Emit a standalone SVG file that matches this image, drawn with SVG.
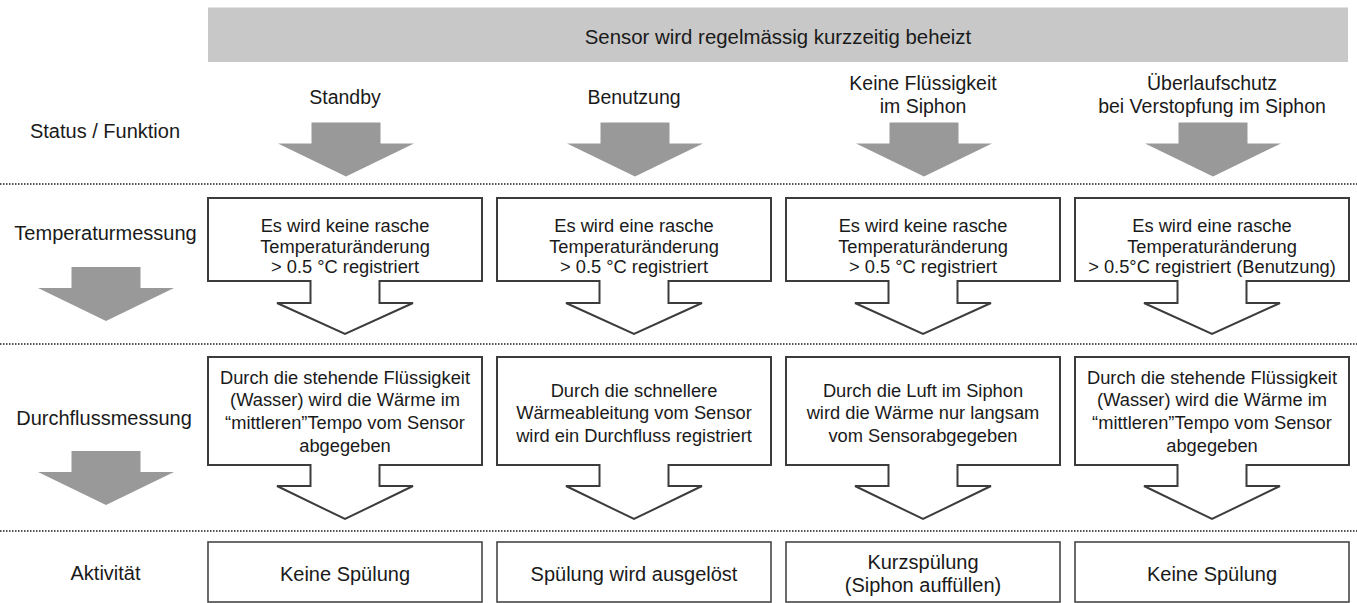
<svg xmlns="http://www.w3.org/2000/svg" xmlns:xlink="http://www.w3.org/1999/xlink" width="1357" height="603" viewBox="0 0 1357 603">
  <style>
    text { font-family: "Liberation Sans", Arial, sans-serif; fill: #1a1a1a; text-anchor: middle; }
    .lbl { font-size: 20px; }
    .hdr { font-size: 19.5px; }
    .ban { font-size: 20.4px; }
    .box { font-size: 18.3px; }
    .act { font-size: 20px; }
    .callout { fill: #ffffff; stroke: #3c3c3c; stroke-width: 2; stroke-linejoin: miter; }
    .actbox { fill: #ffffff; stroke: #464646; stroke-width: 1.6; }
    .sep { stroke: #555555; stroke-width: 1.8; stroke-dasharray: 1.5 1.5; fill: none; }
    .grey { fill: #999999; }
  </style>
  <defs>
    <!-- solid grey block arrow, origin at top centre of the stem -->
    <path id="blockArrow" class="grey" d="M -34.5 0 H 34.5 V 21 H 68 L 0 54 L -68 21 H -34.5 Z"/>
  </defs>

  <!-- banner -->
  <g id="banner">
    <rect x="208" y="7.5" width="1140" height="54.5" fill="#c8c8c8"/>
    <text class="ban" x="778" y="44">Sensor wird regelmässig kurzzeitig beheizt</text>
  </g>

  <!-- row separators -->
  <g id="separators">
    <line class="sep" x1="0" y1="184" x2="1357" y2="184"/>
    <line class="sep" x1="0" y1="344" x2="1357" y2="344"/>
    <line class="sep" x1="0" y1="531" x2="1357" y2="531"/>
  </g>

  <!-- row labels -->
  <g id="row-labels">
    <text class="lbl" x="105" y="137.5">Status / Funktion</text>
    <text class="lbl" x="105.5" y="239.5">Temperaturmessung</text>
    <text class="lbl" x="104" y="425">Durchflussmessung</text>
    <text class="lbl" x="105.5" y="580">Aktivität</text>
    <use href="#blockArrow" x="106" y="267"/>
    <use href="#blockArrow" x="106" y="451"/>
  </g>

  <!-- column headers with grey arrows -->
  <g id="col-standby">
    <text class="hdr" x="345" y="104">Standby</text>
    <use href="#blockArrow" x="346" y="122.5"/>
  </g>
  <g id="col-benutzung">
    <text class="hdr" x="634" y="104">Benutzung</text>
    <use href="#blockArrow" x="635" y="122.5"/>
  </g>
  <g id="col-keine-fluessigkeit">
    <text class="hdr" x="923" y="89.5">Keine Flüssigkeit</text>
    <text class="hdr" x="923" y="112.5">im Siphon</text>
    <use href="#blockArrow" x="924" y="122.5"/>
  </g>
  <g id="col-ueberlauf">
    <text class="hdr" x="1212" y="89.5">Überlaufschutz</text>
    <text class="hdr" x="1212" y="112.5">bei Verstopfung im Siphon</text>
    <use href="#blockArrow" x="1213" y="122.5"/>
  </g>

  <!-- temperature measurement callouts -->
  <g id="temp-1">
    <path class="callout" d="M 208 198 H 482 V 281 H 379.5 V 303 H 413 L 345 334 L 277 303 H 310.5 V 281 H 208 Z"/>
    <text class="box" x="345" y="232">Es wird keine rasche</text>
    <text class="box" x="345" y="252.5">Temperaturänderung</text>
    <text class="box" x="345" y="273">&gt; 0.5 °C registriert</text>
  </g>
  <g id="temp-2">
    <path class="callout" d="M 497 198 H 771 V 281 H 668.5 V 303 H 702 L 634 334 L 566 303 H 599.5 V 281 H 497 Z"/>
    <text class="box" x="634" y="232">Es wird eine rasche</text>
    <text class="box" x="634" y="252.5">Temperaturänderung</text>
    <text class="box" x="634" y="273">&gt; 0.5 °C registriert</text>
  </g>
  <g id="temp-3">
    <path class="callout" d="M 786 198 H 1060 V 281 H 957.5 V 303 H 991 L 923 334 L 855 303 H 888.5 V 281 H 786 Z"/>
    <text class="box" x="923" y="232">Es wird keine rasche</text>
    <text class="box" x="923" y="252.5">Temperaturänderung</text>
    <text class="box" x="923" y="273">&gt; 0.5 °C registriert</text>
  </g>
  <g id="temp-4">
    <path class="callout" d="M 1075 198 H 1349 V 281 H 1246.5 V 303 H 1280 L 1212 334 L 1144 303 H 1177.5 V 281 H 1075 Z"/>
    <text class="box" x="1212" y="232">Es wird eine rasche</text>
    <text class="box" x="1212" y="252.5">Temperaturänderung</text>
    <text class="box" x="1212" y="273">&gt; 0.5°C registriert (Benutzung)</text>
  </g>

  <!-- flow measurement callouts -->
  <g id="flow-1">
    <path class="callout" d="M 208 357 H 482 V 465 H 379.5 V 486 H 413 L 345 519 L 277 486 H 310.5 V 465 H 208 Z"/>
    <text class="box" x="345" y="383.5">Durch die stehende Flüssigkeit</text>
    <text class="box" x="345" y="406">(Wasser) wird die Wärme im</text>
    <text class="box" x="345" y="429">“mittleren”Tempo vom Sensor</text>
    <text class="box" x="345" y="452">abgegeben</text>
  </g>
  <g id="flow-2">
    <path class="callout" d="M 497 357 H 771 V 465 H 668.5 V 486 H 702 L 634 519 L 566 486 H 599.5 V 465 H 497 Z"/>
    <text class="box" x="634" y="396.5">Durch die schnellere</text>
    <text class="box" x="634" y="419">Wärmeableitung vom Sensor</text>
    <text class="box" x="634" y="441.5">wird ein Durchfluss registriert</text>
  </g>
  <g id="flow-3">
    <path class="callout" d="M 786 357 H 1060 V 465 H 957.5 V 486 H 991 L 923 519 L 855 486 H 888.5 V 465 H 786 Z"/>
    <text class="box" x="923" y="396.5">Durch die Luft im Siphon</text>
    <text class="box" x="923" y="419">wird die Wärme nur langsam</text>
    <text class="box" x="923" y="441.5">vom Sensorabgegeben</text>
  </g>
  <g id="flow-4">
    <path class="callout" d="M 1075 357 H 1349 V 465 H 1246.5 V 486 H 1280 L 1212 519 L 1144 486 H 1177.5 V 465 H 1075 Z"/>
    <text class="box" x="1212" y="383.5">Durch die stehende Flüssigkeit</text>
    <text class="box" x="1212" y="406">(Wasser) wird die Wärme im</text>
    <text class="box" x="1212" y="429">“mittleren”Tempo vom Sensor</text>
    <text class="box" x="1212" y="452">abgegeben</text>
  </g>

  <!-- resulting activity -->
  <g id="act-1">
    <rect class="actbox" x="208" y="542" width="274" height="60"/>
    <text class="act" x="345" y="581">Keine Spülung</text>
  </g>
  <g id="act-2">
    <rect class="actbox" x="497" y="542" width="274" height="60"/>
    <text class="act" x="634" y="581">Spülung wird ausgelöst</text>
  </g>
  <g id="act-3">
    <rect class="actbox" x="786" y="542" width="274" height="60"/>
    <text class="act" x="923" y="569">Kurzspülung</text>
    <text class="act" x="923" y="592">(Siphon auffüllen)</text>
  </g>
  <g id="act-4">
    <rect class="actbox" x="1075" y="542" width="274" height="60"/>
    <text class="act" x="1212" y="581">Keine Spülung</text>
  </g>
</svg>
